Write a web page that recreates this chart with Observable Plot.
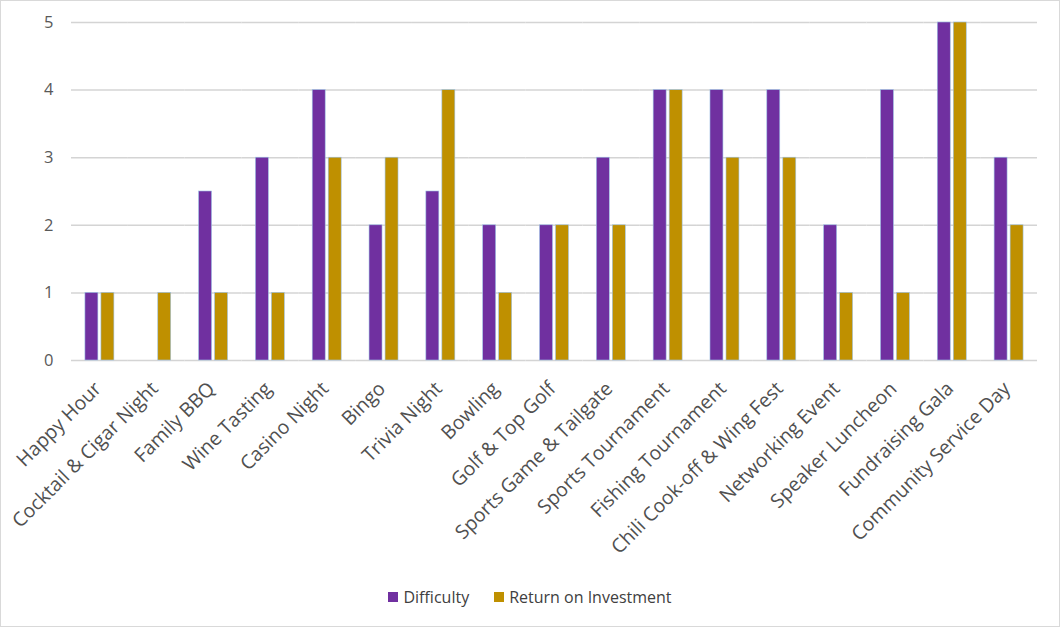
<!DOCTYPE html>
<html>
<head>
<meta charset="utf-8">
<script src="https://cdn.jsdelivr.net/npm/d3@7"></script>
<script src="https://cdn.jsdelivr.net/npm/@observablehq/plot@0.6"></script>
<style>
  html, body { margin: 0; padding: 0; background: #fff; }
  #frame { width: 1060px; height: 627px; box-sizing: border-box; border: 1px solid #d9d9d9; position: relative; overflow: hidden; font-family: "Open Sans", sans-serif; }
  #legend { position: absolute; left: 0; right: 0; top: 585px; display: flex; justify-content: center; gap: 25px; font-size: 16px; color: #404040; }
  .item { display: flex; align-items: center; gap: 5px; }
  .sw { width: 10px; height: 10px; display: inline-block; }
</style>
</head>
<body>
<div id="frame">
  <div id="chart"></div>
  <div id="legend"></div>
</div>
<script>
const events = ["Happy Hour", "Cocktail & Cigar Night", "Family BBQ", "Wine Tasting", "Casino Night", "Bingo", "Trivia Night", "Bowling", "Golf & Top Golf", "Sports Game & Tailgate", "Sports Tournament", "Fishing Tournament", "Chili Cook-off & Wing Fest", "Networking Event", "Speaker Luncheon", "Fundraising Gala", "Community Service Day"];
const difficulty = [1, 0, 2.5, 3, 4, 2, 2.5, 2, 2, 3, 4, 4, 4, 2, 4, 5, 3];
const roi = [1, 1, 1, 1, 3, 3, 4, 1, 2, 2, 4, 3, 3, 1, 1, 5, 2];
const seriesNames = ["Difficulty", "Return on Investment"];
const seriesColors = ["#7030A0", "#BF9000"];
const yTicks = [0, 1, 2, 3, 4, 5];

const data = [];
events.forEach((e, i) => {
  data.push({event: e, series: seriesNames[0], value: difficulty[i]});
  data.push({event: e, series: seriesNames[1], value: roi[i]});
});

const chart = Plot.plot({
  width: 1058,
  height: 575,
  marginLeft: 70,
  marginRight: 22,
  marginTop: 21,
  marginBottom: 216,
  style: {fontFamily: "Open Sans, sans-serif", background: "white"},
  fx: {domain: events, padding: 0, round: false, label: null},
  x: {domain: seriesNames, paddingInner: 0.19, paddingOuter: 0.87, round: false, axis: null},
  y: {domain: [0, 5], ticks: yTicks, label: null},
  color: {domain: seriesNames, range: seriesColors},
  marks: [
    Plot.gridY(yTicks, {stroke: "#d4d4d4", strokeOpacity: 1, strokeWidth: 1.5}),
    Plot.barY(data.filter(d => d.value > 0), {fx: "event", x: "series", y: "value", fill: "series", stroke: "#9dc3e6", strokeWidth: 0.6}),
    Plot.axisY(yTicks, {tickSize: 0, tickPadding: 18, fontSize: 16.5, fill: "#595959", tickFormat: "d", label: null}),
    Plot.axisFx({anchor: "bottom", tickSize: 0, tickPadding: 25, dx: -2, tickRotate: -45, fontSize: 19.5, fill: "#505050", label: null})
  ]
});
document.getElementById("chart").appendChild(chart);

const legend = document.getElementById("legend");
seriesNames.forEach((s, i) => {
  const it = document.createElement("div");
  it.className = "item";
  const sw = document.createElement("span");
  sw.className = "sw";
  sw.style.background = seriesColors[i];
  it.appendChild(sw);
  const t = document.createElement("span");
  t.textContent = s;
  it.appendChild(t);
  legend.appendChild(it);
});
</script>
</body>
</html>
